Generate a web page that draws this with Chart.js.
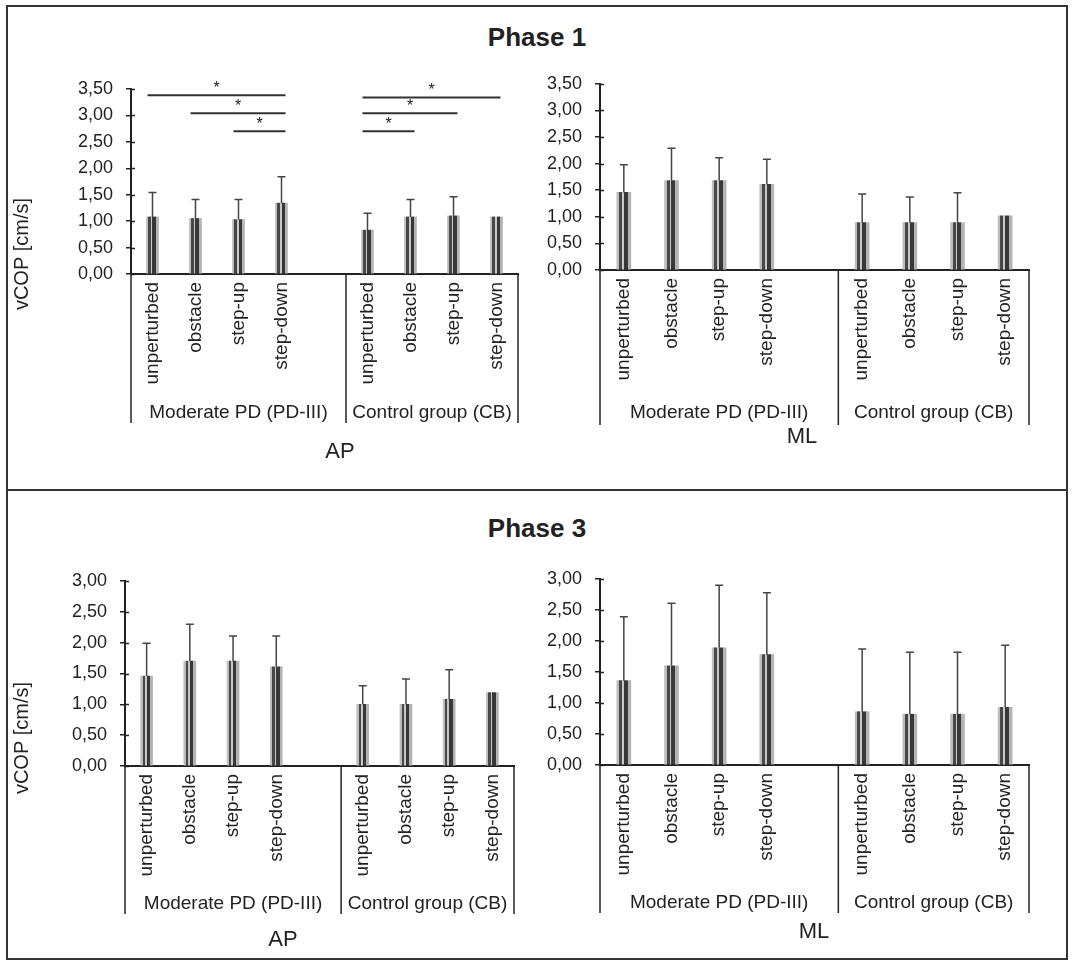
<!DOCTYPE html>
<html>
<head>
<meta charset="utf-8">
<title>vCOP Phase 1 / Phase 3</title>
<script src="https://cdn.jsdelivr.net/npm/chart.js"></script>
<style>
  body { margin: 0; background: #fff; font-family: "Liberation Sans", Arial, sans-serif; color: #222; }
  #page { position: relative; width: 1074px; height: 968px; }
  #frame { position: absolute; left: 6px; top: 5px; width: 1062px; height: 955px; border: 2px solid #333; box-sizing: border-box; }
  #divider { position: absolute; left: 6px; top: 489px; width: 1062px; height: 2px; background: #333; }
  .phase { position: absolute; left: 0; width: 1074px; text-align: center; font-weight: bold; font-size: 26px; line-height: 30px; }
  canvas { position: absolute; }
</style>
</head>
<body>
<div id="page">
  <div id="frame"></div>
  <div id="divider"></div>
  <div class="phase" style="top:22px">Phase 1</div>
  <div class="phase" style="top:513px">Phase 3</div>
  <canvas id="c1" width="522" height="420" style="left:8px;top:60px"></canvas>
  <canvas id="c2" width="530" height="420" style="left:532px;top:60px"></canvas>
  <canvas id="c3" width="522" height="405" style="left:8px;top:550px"></canvas>
  <canvas id="c4" width="530" height="405" style="left:532px;top:550px"></canvas>
</div>
<script>
    // categories (slot 5 is the empty gap between the two groups)
    var categories = ['unperturbed', 'obstacle', 'step-up', 'step-down', '', 'unperturbed', 'obstacle', 'step-up', 'step-down'];
    var groups = ['Moderate PD (PD-III)', 'Control group (CB)'];

    // mean values and top of the error bar (mean + SD), in cm/s
    var p1apMean  = [1.08, 1.05, 1.03, 1.34, null, 0.83, 1.08, 1.10, 1.08];
    var p1apUpper = [1.54, 1.41, 1.41, 1.84, null, 1.15, 1.41, 1.46, null];
    var p1mlMean  = [1.46, 1.68, 1.68, 1.61, null, 0.89, 0.89, 0.89, 1.02];
    var p1mlUpper = [1.98, 2.29, 2.11, 2.08, null, 1.43, 1.37, 1.45, null];
    var p3apMean  = [1.46, 1.70, 1.70, 1.61, null, 1.00, 1.00, 1.08, 1.19];
    var p3apUpper = [1.99, 2.30, 2.11, 2.11, null, 1.30, 1.41, 1.56, null];
    var p3mlMean  = [1.36, 1.60, 1.89, 1.78, null, 0.86, 0.82, 0.82, 0.93];
    var p3mlUpper = [2.39, 2.61, 2.90, 2.78, null, 1.87, 1.82, 1.82, 1.93];

    // significance brackets: [from category, to category, height]
    var p1apSig = [[0, 3, 3.38], [1, 3, 3.04], [2, 3, 2.70], [5, 8, 3.34], [5, 7, 3.04], [5, 6, 2.70]];

    var FONT = '"Liberation Sans", Arial, sans-serif';
    var INK = '#222';

    // box = canvas rect on the page, area = wanted plot area on the page
    var panels = [
        {id: 'c1', box: [8, 60, 522, 420], area: [131, 89, 518, 274], max: 3.5, mean: p1apMean, upper: p1apUpper, sig: p1apSig,
         axisTitle: 'AP', titleX: 340, titleDy: 178, groupDy: 139, sepDy: 149, yTitleY: 254, bar: 12},
        {id: 'c2', box: [532, 60, 530, 420], area: [600, 83, 1029, 270], max: 3.5, mean: p1mlMean, upper: p1mlUpper, sig: [],
         axisTitle: 'ML', titleX: 802, titleDy: 167, groupDy: 143, sepDy: 155, yTitleY: null, bar: 14},
        {id: 'c3', box: [8, 550, 522, 405], area: [125, 581, 514, 766], max: 3.0, mean: p3apMean, upper: p3apUpper, sig: [],
         axisTitle: 'AP', titleX: 283, titleDy: 174, groupDy: 138, sepDy: 148, yTitleY: 738, bar: 12},
        {id: 'c4', box: [532, 550, 530, 405], area: [600, 579, 1029, 765], max: 3.0, mean: p3mlMean, upper: p3mlUpper, sig: [],
         axisTitle: 'ML', titleX: 814, titleDy: 167, groupDy: 138, sepDy: 148, yTitleY: null, bar: 14}
    ];

    // striped grey fill, like the original bars
    function stripe(ctx) {
        var chart = ctx.chart;
        if (!chart.chartArea || ctx.type !== 'data') return '#777';
        var x = chart.scales.x.getPixelForValue(ctx.dataIndex);
        var w = ctx.dataset.barThickness / 2;
        var g = chart.ctx.createLinearGradient(x - w, 0, x + w, 0);
        var stops = [[0, '#bdbdbd'], [0.16, '#bdbdbd'], [0.16, '#474747'], [0.36, '#474747'], [0.36, '#c8c8c8'],
                     [0.5, '#c8c8c8'], [0.5, '#383838'], [0.78, '#383838'], [0.78, '#b4b4b4'], [1, '#b4b4b4']];
        stops.forEach(function (s) { g.addColorStop(s[0], s[1]); });
        return g;
    }

    function decor(p) {
        return {
            id: 'decor',
            afterDatasetsDraw: function (chart) {
                var c = chart.ctx, xs = chart.scales.x, ys = chart.scales.y;
                c.save();
                c.strokeStyle = '#444';
                c.lineWidth = 1.5;
                p.upper.forEach(function (u, i) {
                    if (u == null) return;
                    var x = xs.getPixelForValue(i);
                    var y0 = ys.getPixelForValue(p.mean[i]);
                    var y1 = ys.getPixelForValue(u);
                    c.beginPath();
                    c.moveTo(x, y0); c.lineTo(x, y1);
                    c.moveTo(x - 4, y1); c.lineTo(x + 4, y1);
                    c.stroke();
                });
                c.restore();
            },
            afterDraw: function (chart) {
                var c = chart.ctx, xs = chart.scales.x, ys = chart.scales.y, a = chart.chartArea;
                c.save();
                c.strokeStyle = INK;
                c.fillStyle = INK;

                // tick marks cross the y axis
                c.lineWidth = 1.5;
                for (var v = 0; v <= p.max + 1e-9; v += 0.5) {
                    var ty = Math.round(ys.getPixelForValue(v)) + 0.5;
                    c.beginPath(); c.moveTo(a.left, ty); c.lineTo(a.left + 4, ty); c.stroke();
                }

                // group separators under the axis
                var sepX = (xs.getPixelForValue(4) + xs.getPixelForValue(5)) / 2;
                [a.left, sepX, a.right].forEach(function (x) {
                    c.beginPath(); c.moveTo(x, a.bottom); c.lineTo(x, a.bottom + p.sepDy); c.stroke();
                });

                // group labels
                c.font = '19px ' + FONT;
                c.textAlign = 'center';
                c.textBaseline = 'middle';
                c.fillText(groups[0], (a.left + sepX) / 2, a.bottom + p.groupDy);
                c.fillText(groups[1], (sepX + a.right) / 2, a.bottom + p.groupDy);

                // AP / ML
                c.font = '22px ' + FONT;
                c.fillText(p.axisTitle, p.titleX - p.box[0], a.bottom + p.titleDy);

                // y axis title
                if (p.yTitleY != null) {
                    c.save();
                    c.translate(14, p.yTitleY - p.box[1]);
                    c.rotate(-Math.PI / 2);
                    c.font = '20px ' + FONT;
                    c.fillText('vCOP [cm/s]', 0, 0);
                    c.restore();
                }

                // significance brackets
                c.strokeStyle = '#333';
                c.lineWidth = 2;
                c.font = '16px ' + FONT;
                p.sig.forEach(function (s) {
                    var x1 = xs.getPixelForValue(s[0]) - 5;
                    var x2 = xs.getPixelForValue(s[1]) + 4;
                    var y = ys.getPixelForValue(s[2]);
                    c.beginPath(); c.moveTo(x1, y); c.lineTo(x2, y); c.stroke();
                    c.fillText('*', (x1 + x2) / 2, y - 7);
                });
                c.restore();
            }
        };
    }

    panels.forEach(function (p) {
        new Chart(document.getElementById(p.id), {
            type: 'bar',
            data: {
                labels: categories,
                datasets: [{data: p.mean, backgroundColor: stripe, barThickness: p.bar, borderWidth: 0}]
            },
            options: {
                responsive: false,
                animation: false,
                layout: {padding: {left: 0, top: p.area[1] - p.box[1], right: p.box[0] + p.box[2] - p.area[2], bottom: 0}},
                plugins: {legend: {display: false}, tooltip: {enabled: false}},
                scales: {
                    x: {
                        grid: {display: false, drawTicks: false},
                        border: {display: true, color: INK, width: 2},
                        ticks: {autoSkip: false, minRotation: 90, maxRotation: 90, padding: 8, color: INK, font: {family: FONT, size: 19}},
                        afterFit: function (s) { s.height = p.box[1] + p.box[3] - p.area[3]; }
                    },
                    y: {
                        min: 0,
                        max: p.max,
                        grid: {drawOnChartArea: false, drawTicks: true, tickLength: 5, color: INK, lineWidth: 1.5},
                        border: {display: true, color: INK, width: 2},
                        ticks: {
                            stepSize: 0.5, padding: 13, color: INK, font: {family: FONT, size: 18},
                            callback: function (v) { return v.toFixed(2).replace('.', ','); }
                        },
                        afterFit: function (s) { s.width = p.area[0] - p.box[0]; }
                    }
                }
            },
            plugins: [decor(p)]
        });
    });
</script>
</body>
</html>
